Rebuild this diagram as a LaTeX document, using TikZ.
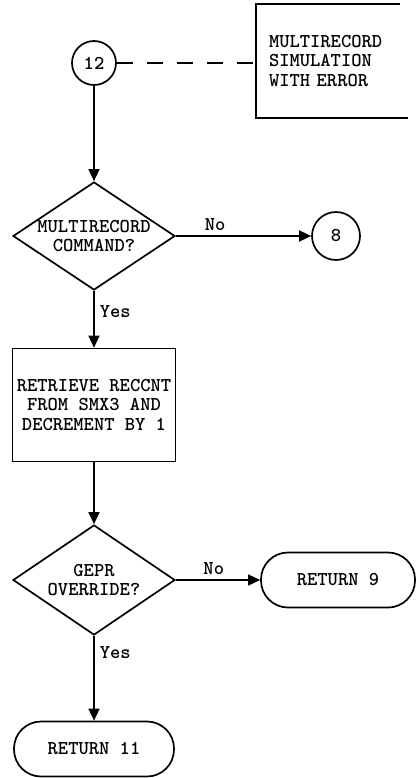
\documentclass[tikz,border=0pt]{standalone}
\usepackage{fontspec}
\usetikzlibrary{shapes.geometric,arrows.meta}
\begin{document}
\begin{tikzpicture}[x=1pt,y=-1pt,
  every node/.style={font=\ttfamily\bfseries\fontsize{19.6}{19.5}\selectfont},
  line/.style={line width=1.7pt},
  arr/.style={line, -{Triangle[length=12pt,width=11pt]}},
  conn/.style={circle, draw, line width=1.7pt, minimum size=44pt, inner sep=0pt},
  dec/.style={diamond, draw, line width=1.7pt, aspect=1.5, inner sep=-4pt, minimum width=162pt, minimum height=108pt, align=center},
  proc/.style={rectangle, draw, line width=1.7pt, minimum width=163pt, minimum height=113pt, align=center, inner sep=0pt},
  term/.style={rectangle, rounded corners=27pt, draw, line width=1.7pt, minimum height=55pt, inner sep=0pt},
  lbl/.style={inner sep=5pt}]
\useasboundingbox (0,0) rectangle (417,778);

\node[conn] (c12) at (94,63) {12};
\node[minimum height=114pt, text width=126pt, inner xsep=13pt, inner ysep=0pt, align=left] (note) at (332,61) {MULTIRECORD\\SIMULATION\\WITH ERROR};
\draw[line] ([xshift=-8pt]note.north east) -- (note.north west) -- (note.south west) -- (note.south east);
\draw[line, dash pattern=on 16pt off 14pt] (c12.east) -- (c12.east -| note.west);

\node[dec] (d1) at (94,236) {MULTIRECORD\\COMMAND?};
\node[conn, minimum size=48pt] (c8) at (336,236) {8};
\node[proc] (r1) at (94,405) {RETRIEVE RECCNT\\FROM SMX3 AND\\DECREMENT BY 1};
\node[dec, minimum height=110pt] (d2) at (94,580) {GEPR\\OVERRIDE?};
\node[term, minimum width=154pt] (r9) at (338,580) {RETURN 9};
\node[term, minimum width=160pt] (r11) at (94,749) {RETURN 11};

\draw[arr] (c12.south) -- (d1.north);
\draw[arr] (d1.east) -- node[lbl, above, pos=0.29] {No} (c8.west);
\draw[arr] (d1.south) -- node[lbl, right, pos=0.37] {Yes} (r1.north);
\draw[arr] (r1.south) -- (d2.north);
\draw[arr] (d2.east) -- node[lbl, above, pos=0.45] {No} (r9.west);
\draw[arr] (d2.south) -- node[lbl, right, pos=0.2] {Yes} (r11.north);
\end{tikzpicture}
\end{document}
